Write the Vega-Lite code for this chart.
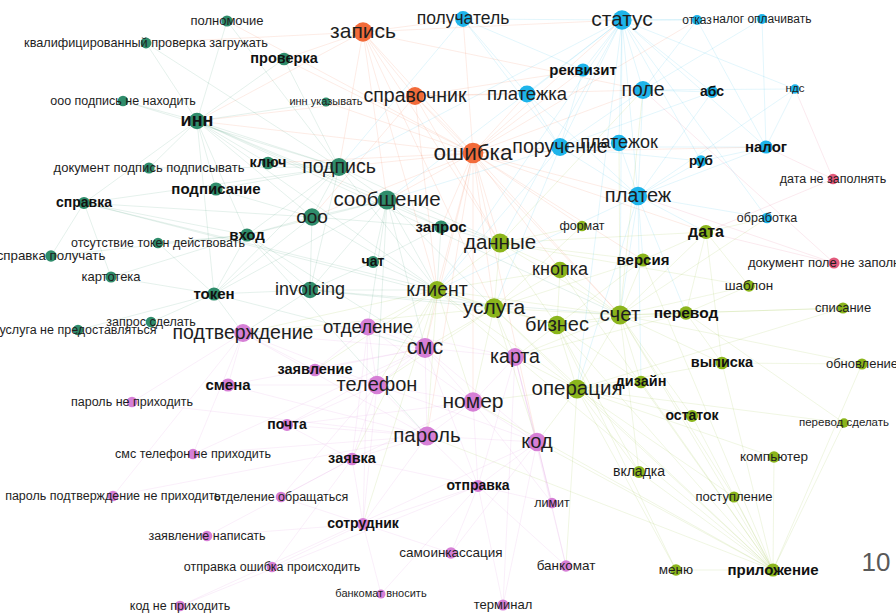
{
  "$schema": "https://vega.github.io/schema/vega-lite/v6.json",
  "width": 896,
  "height": 614,
  "autosize": {"type": "none"},
  "padding": 0,
  "background": "white",
  "config": {"view": {"stroke": null}, "font": "Liberation Sans"},
  "resolve": {"scale": {"size": "independent"}},
  "datasets": {
    "nodes": [
      {"id": "полномочие", "x": 227, "y": 21, "g": "A", "w": 13, "b": 0},
      {"id": "квалифицированный проверка загружать", "x": 146, "y": 43, "g": "A", "w": 12.7, "b": 0},
      {"id": "проверка", "x": 284, "y": 59, "g": "A", "w": 14.5, "b": 1},
      {"id": "ооо подпись не находить", "x": 123, "y": 101, "g": "A", "w": 12.5, "b": 0},
      {"id": "инн указывать", "x": 326, "y": 102, "g": "A", "w": 11, "b": 0},
      {"id": "инн", "x": 197, "y": 121, "g": "A", "w": 18, "b": 1},
      {"id": "документ подпись подписывать", "x": 149, "y": 168, "g": "A", "w": 13, "b": 0},
      {"id": "ключ", "x": 268, "y": 163, "g": "A", "w": 14.5, "b": 1},
      {"id": "подпись", "x": 339, "y": 167, "g": "A", "w": 19.5, "b": 0},
      {"id": "подписание", "x": 216, "y": 189, "g": "A", "w": 15, "b": 1},
      {"id": "справка", "x": 84, "y": 203, "g": "A", "w": 14, "b": 1},
      {"id": "сообщение", "x": 387, "y": 200, "g": "A", "w": 20.5, "b": 0},
      {"id": "ооо", "x": 312, "y": 217, "g": "A", "w": 19, "b": 0},
      {"id": "вход", "x": 247, "y": 235, "g": "A", "w": 15, "b": 1},
      {"id": "отсутствие токен действовать", "x": 158, "y": 243, "g": "A", "w": 12.5, "b": 0},
      {"id": "справка получать", "x": 51, "y": 256, "g": "A", "w": 13.3, "b": 0},
      {"id": "запрос", "x": 441, "y": 227, "g": "A", "w": 15, "b": 1},
      {"id": "чат", "x": 373, "y": 262, "g": "A", "w": 14, "b": 1},
      {"id": "картотека", "x": 111, "y": 277, "g": "A", "w": 13, "b": 0},
      {"id": "токен", "x": 214, "y": 294, "g": "A", "w": 15, "b": 1},
      {"id": "invoicing", "x": 310, "y": 290, "g": "A", "w": 18, "b": 0},
      {"id": "запрос сделать", "x": 151, "y": 322, "g": "A", "w": 12.5, "b": 0},
      {"id": "услуга не предоставляться", "x": 78, "y": 330, "g": "A", "w": 12.5, "b": 0},
      {"id": "запись", "x": 363, "y": 32, "g": "B", "w": 21, "b": 0},
      {"id": "справочник", "x": 415, "y": 96, "g": "B", "w": 19.5, "b": 0},
      {"id": "ошибка", "x": 473, "y": 153, "g": "B", "w": 22.5, "b": 0},
      {"id": "получатель", "x": 463, "y": 19, "g": "C", "w": 17.5, "b": 0},
      {"id": "статус", "x": 622, "y": 20, "g": "C", "w": 21, "b": 0},
      {"id": "отказ", "x": 697, "y": 20, "g": "C", "w": 12, "b": 0},
      {"id": "налог оплачивать", "x": 762, "y": 19, "g": "C", "w": 12, "b": 0},
      {"id": "реквизит", "x": 583, "y": 70, "g": "C", "w": 15, "b": 1},
      {"id": "платежка", "x": 527, "y": 94, "g": "C", "w": 18.5, "b": 0},
      {"id": "поле", "x": 643, "y": 90, "g": "C", "w": 19.5, "b": 0},
      {"id": "абс", "x": 712, "y": 92, "g": "C", "w": 14, "b": 1},
      {"id": "ндс", "x": 795, "y": 89, "g": "C", "w": 11.5, "b": 0},
      {"id": "поручение", "x": 560, "y": 147, "g": "C", "w": 19.5, "b": 0},
      {"id": "платежок", "x": 619, "y": 143, "g": "C", "w": 18, "b": 0},
      {"id": "руб", "x": 701, "y": 161, "g": "C", "w": 13.5, "b": 1},
      {"id": "налог", "x": 766, "y": 147, "g": "C", "w": 15, "b": 1},
      {"id": "платеж", "x": 638, "y": 196, "g": "C", "w": 20, "b": 0},
      {"id": "обработка", "x": 767, "y": 218, "g": "C", "w": 12.5, "b": 0},
      {"id": "дата не заполнять", "x": 833, "y": 179, "g": "F", "w": 12.5, "b": 0},
      {"id": "документ поле не заполнять", "x": 834, "y": 263, "g": "F", "w": 13, "b": 0},
      {"id": "формат", "x": 582, "y": 226, "g": "D", "w": 12.5, "b": 0},
      {"id": "данные", "x": 500, "y": 243, "g": "D", "w": 20.5, "b": 0},
      {"id": "дата", "x": 706, "y": 232, "g": "D", "w": 16, "b": 1},
      {"id": "версия", "x": 643, "y": 260, "g": "D", "w": 15, "b": 1},
      {"id": "кнопка", "x": 560, "y": 270, "g": "D", "w": 18, "b": 0},
      {"id": "шаблон", "x": 749, "y": 286, "g": "D", "w": 13.5, "b": 0},
      {"id": "клиент", "x": 437, "y": 290, "g": "D", "w": 19.5, "b": 0},
      {"id": "услуга", "x": 494, "y": 308, "g": "D", "w": 21, "b": 0},
      {"id": "бизнес", "x": 557, "y": 325, "g": "D", "w": 20, "b": 0},
      {"id": "счет", "x": 620, "y": 315, "g": "D", "w": 20.5, "b": 0},
      {"id": "перевод", "x": 686, "y": 313, "g": "D", "w": 15.5, "b": 1},
      {"id": "списание", "x": 843, "y": 308, "g": "D", "w": 13, "b": 0},
      {"id": "выписка", "x": 722, "y": 363, "g": "D", "w": 14.5, "b": 1},
      {"id": "обновление", "x": 862, "y": 364, "g": "D", "w": 13, "b": 0},
      {"id": "операция", "x": 577, "y": 389, "g": "D", "w": 20.5, "b": 0},
      {"id": "дизайн", "x": 641, "y": 382, "g": "D", "w": 14.5, "b": 1},
      {"id": "остаток", "x": 692, "y": 416, "g": "D", "w": 14, "b": 1},
      {"id": "перевод сделать", "x": 844, "y": 423, "g": "D", "w": 11.5, "b": 0},
      {"id": "компьютер", "x": 774, "y": 457, "g": "D", "w": 13.5, "b": 0},
      {"id": "вкладка", "x": 639, "y": 472, "g": "D", "w": 14, "b": 0},
      {"id": "поступление", "x": 734, "y": 497, "g": "D", "w": 13, "b": 0},
      {"id": "меню", "x": 676, "y": 570, "g": "D", "w": 13.5, "b": 0},
      {"id": "приложение", "x": 773, "y": 570, "g": "D", "w": 15, "b": 1},
      {"id": "подтверждение", "x": 243, "y": 333, "g": "E", "w": 19.5, "b": 0},
      {"id": "отделение", "x": 368, "y": 327, "g": "E", "w": 18.5, "b": 0},
      {"id": "заявление", "x": 315, "y": 370, "g": "E", "w": 14.5, "b": 1},
      {"id": "смс", "x": 425, "y": 348, "g": "E", "w": 21.5, "b": 0},
      {"id": "карта", "x": 515, "y": 357, "g": "E", "w": 19.5, "b": 0},
      {"id": "смена", "x": 228, "y": 385, "g": "E", "w": 15, "b": 1},
      {"id": "телефон", "x": 377, "y": 385, "g": "E", "w": 20, "b": 0},
      {"id": "номер", "x": 473, "y": 402, "g": "E", "w": 21, "b": 0},
      {"id": "пароль не приходить", "x": 132, "y": 402, "g": "E", "w": 12.5, "b": 0},
      {"id": "почта", "x": 287, "y": 425, "g": "E", "w": 14, "b": 1},
      {"id": "пароль", "x": 427, "y": 436, "g": "E", "w": 20.5, "b": 0},
      {"id": "код", "x": 537, "y": 442, "g": "E", "w": 20, "b": 0},
      {"id": "заявка", "x": 352, "y": 459, "g": "E", "w": 14.5, "b": 1},
      {"id": "смс телефон не приходить", "x": 193, "y": 454, "g": "E", "w": 12.5, "b": 0},
      {"id": "отправка", "x": 478, "y": 486, "g": "E", "w": 14, "b": 1},
      {"id": "лимит", "x": 552, "y": 503, "g": "E", "w": 12.5, "b": 0},
      {"id": "пароль подтверждение не приходить", "x": 113, "y": 496, "g": "E", "w": 12.5, "b": 0},
      {"id": "отделение обращаться", "x": 281, "y": 497, "g": "E", "w": 12.5, "b": 0},
      {"id": "сотрудник", "x": 363, "y": 524, "g": "E", "w": 14, "b": 1},
      {"id": "заявление написать", "x": 207, "y": 536, "g": "E", "w": 12.5, "b": 0},
      {"id": "самоинкассация", "x": 451, "y": 553, "g": "E", "w": 13.5, "b": 0},
      {"id": "банкомат", "x": 566, "y": 566, "g": "E", "w": 13.5, "b": 0},
      {"id": "отправка ошибка происходить", "x": 272, "y": 567, "g": "E", "w": 12.5, "b": 0},
      {"id": "банкомат вносить", "x": 381, "y": 594, "g": "E", "w": 11, "b": 0},
      {"id": "терминал", "x": 503, "y": 605, "g": "E", "w": 13, "b": 0},
      {"id": "код не приходить", "x": 180, "y": 606, "g": "E", "w": 12.5, "b": 0}
    ],
    "notes": [{"label": "10", "x": 876, "y": 563}],
    "edges": [
      {"s": "ошибка", "t": "запись"}, {"s": "ошибка", "t": "справочник"}, {"s": "ошибка", "t": "статус"}, {"s": "ошибка", "t": "получатель"},
      {"s": "ошибка", "t": "платежка"}, {"s": "ошибка", "t": "поручение"}, {"s": "ошибка", "t": "поле"}, {"s": "ошибка", "t": "подпись"},
      {"s": "ошибка", "t": "сообщение"}, {"s": "ошибка", "t": "инн"}, {"s": "ошибка", "t": "данные"}, {"s": "ошибка", "t": "клиент"},
      {"s": "ошибка", "t": "услуга"}, {"s": "ошибка", "t": "запрос"}, {"s": "ошибка", "t": "ооо"}, {"s": "ошибка", "t": "платеж"},
      {"s": "ошибка", "t": "счет"}, {"s": "ошибка", "t": "смс"}, {"s": "ошибка", "t": "номер"}, {"s": "ошибка", "t": "формат"},
      {"s": "ошибка", "t": "дата"}, {"s": "ошибка", "t": "налог"}, {"s": "ошибка", "t": "ключ"}, {"s": "ошибка", "t": "проверка"},
      {"s": "ошибка", "t": "инн указывать"}, {"s": "ошибка", "t": "полномочие"}, {"s": "ошибка", "t": "реквизит"}, {"s": "ошибка", "t": "отказ"},
      {"s": "ошибка", "t": "кнопка"}, {"s": "ошибка", "t": "версия"}, {"s": "ошибка", "t": "код"}, {"s": "ошибка", "t": "пароль"},
      {"s": "запись", "t": "справочник"}, {"s": "запись", "t": "инн"}, {"s": "запись", "t": "проверка"}, {"s": "запись", "t": "подпись"},
      {"s": "запись", "t": "сообщение"}, {"s": "запись", "t": "данные"}, {"s": "запись", "t": "квалифицированный проверка загружать"}, {"s": "запись", "t": "получатель"},
      {"s": "запись", "t": "статус"}, {"s": "запись", "t": "поле"}, {"s": "запись", "t": "клиент"}, {"s": "запись", "t": "услуга"},
      {"s": "справочник", "t": "инн"}, {"s": "справочник", "t": "платежка"}, {"s": "справочник", "t": "поле"}, {"s": "справочник", "t": "реквизит"},
      {"s": "справочник", "t": "данные"}, {"s": "справочник", "t": "ооо"}, {"s": "справочник", "t": "счет"}, {"s": "справочник", "t": "клиент"},
      {"s": "статус", "t": "получатель"}, {"s": "статус", "t": "реквизит"}, {"s": "статус", "t": "поле"}, {"s": "статус", "t": "отказ"},
      {"s": "статус", "t": "платежка"}, {"s": "статус", "t": "поручение"}, {"s": "статус", "t": "платежок"}, {"s": "статус", "t": "абс"},
      {"s": "статус", "t": "налог"}, {"s": "статус", "t": "платеж"}, {"s": "статус", "t": "руб"}, {"s": "статус", "t": "налог оплачивать"},
      {"s": "статус", "t": "ндс"}, {"s": "статус", "t": "обработка"}, {"s": "статус", "t": "счет"}, {"s": "статус", "t": "данные"},
      {"s": "статус", "t": "операция"}, {"s": "статус", "t": "сообщение"}, {"s": "статус", "t": "подпись"}, {"s": "статус", "t": "клиент"},
      {"s": "платеж", "t": "поручение"}, {"s": "платеж", "t": "платежок"}, {"s": "платеж", "t": "поле"}, {"s": "платеж", "t": "абс"},
      {"s": "платеж", "t": "налог"}, {"s": "платеж", "t": "руб"}, {"s": "платеж", "t": "дата"}, {"s": "платеж", "t": "счет"},
      {"s": "платеж", "t": "обработка"}, {"s": "платеж", "t": "версия"}, {"s": "платеж", "t": "перевод"}, {"s": "платеж", "t": "ндс"},
      {"s": "платеж", "t": "платежка"}, {"s": "платеж", "t": "операция"}, {"s": "платеж", "t": "клиент"}, {"s": "платеж", "t": "дизайн"},
      {"s": "поручение", "t": "платежка"}, {"s": "поручение", "t": "платежок"}, {"s": "поручение", "t": "реквизит"}, {"s": "поручение", "t": "поле"},
      {"s": "поручение", "t": "получатель"}, {"s": "поручение", "t": "налог"}, {"s": "поручение", "t": "руб"}, {"s": "поручение", "t": "абс"},
      {"s": "поручение", "t": "клиент"}, {"s": "поручение", "t": "услуга"}, {"s": "поручение", "t": "сообщение"},
      {"s": "инн", "t": "подпись"}, {"s": "инн", "t": "ключ"}, {"s": "инн", "t": "подписание"}, {"s": "инн", "t": "ооо"},
      {"s": "инн", "t": "сообщение"}, {"s": "инн", "t": "проверка"}, {"s": "инн", "t": "документ подпись подписывать"}, {"s": "инн", "t": "ооо подпись не находить"},
      {"s": "инн", "t": "справка"}, {"s": "инн", "t": "вход"}, {"s": "инн", "t": "токен"}, {"s": "инн", "t": "квалифицированный проверка загружать"},
      {"s": "инн", "t": "полномочие"}, {"s": "инн", "t": "инн указывать"}, {"s": "инн", "t": "запрос"}, {"s": "инн", "t": "клиент"}, {"s": "инн", "t": "счет"},
      {"s": "подпись", "t": "ключ"}, {"s": "подпись", "t": "подписание"}, {"s": "подпись", "t": "сообщение"}, {"s": "подпись", "t": "ооо"},
      {"s": "подпись", "t": "проверка"}, {"s": "подпись", "t": "вход"}, {"s": "подпись", "t": "токен"}, {"s": "подпись", "t": "invoicing"},
      {"s": "подпись", "t": "документ подпись подписывать"}, {"s": "подпись", "t": "ооо подпись не находить"}, {"s": "подпись", "t": "справка"}, {"s": "подпись", "t": "полномочие"},
      {"s": "подпись", "t": "квалифицированный проверка загружать"}, {"s": "подпись", "t": "данные"}, {"s": "подпись", "t": "клиент"},
      {"s": "сообщение", "t": "ооо"}, {"s": "сообщение", "t": "вход"}, {"s": "сообщение", "t": "запрос"}, {"s": "сообщение", "t": "чат"},
      {"s": "сообщение", "t": "invoicing"}, {"s": "сообщение", "t": "токен"}, {"s": "сообщение", "t": "клиент"}, {"s": "сообщение", "t": "данные"},
      {"s": "сообщение", "t": "смс"}, {"s": "сообщение", "t": "отделение"}, {"s": "сообщение", "t": "услуга"}, {"s": "сообщение", "t": "телефон"},
      {"s": "ооо", "t": "вход"}, {"s": "ооо", "t": "invoicing"}, {"s": "ооо", "t": "токен"}, {"s": "ооо", "t": "справка"},
      {"s": "ооо", "t": "запрос"}, {"s": "ооо", "t": "клиент"}, {"s": "ооо", "t": "подписание"},
      {"s": "вход", "t": "токен"}, {"s": "вход", "t": "отсутствие токен действовать"}, {"s": "вход", "t": "справка"}, {"s": "вход", "t": "справка получать"},
      {"s": "вход", "t": "invoicing"}, {"s": "вход", "t": "картотека"}, {"s": "вход", "t": "смс"}, {"s": "вход", "t": "пароль"},
      {"s": "токен", "t": "отсутствие токен действовать"}, {"s": "токен", "t": "запрос сделать"}, {"s": "токен", "t": "услуга не предоставляться"}, {"s": "токен", "t": "картотека"},
      {"s": "токен", "t": "invoicing"}, {"s": "токен", "t": "подтверждение"}, {"s": "токен", "t": "смс"},
      {"s": "справка", "t": "справка получать"}, {"s": "справка", "t": "картотека"}, {"s": "справка", "t": "клиент"}, {"s": "справка", "t": "услуга"},
      {"s": "invoicing", "t": "клиент"}, {"s": "invoicing", "t": "услуга"}, {"s": "invoicing", "t": "чат"}, {"s": "invoicing", "t": "подтверждение"},
      {"s": "invoicing", "t": "счет"}, {"s": "чат", "t": "клиент"}, {"s": "чат", "t": "запрос"}, {"s": "запрос", "t": "данные"}, {"s": "запрос", "t": "клиент"},
      {"s": "клиент", "t": "услуга"}, {"s": "клиент", "t": "данные"}, {"s": "клиент", "t": "кнопка"}, {"s": "клиент", "t": "бизнес"},
      {"s": "клиент", "t": "счет"}, {"s": "клиент", "t": "отделение"}, {"s": "клиент", "t": "смс"}, {"s": "клиент", "t": "карта"},
      {"s": "клиент", "t": "телефон"}, {"s": "клиент", "t": "номер"}, {"s": "клиент", "t": "операция"}, {"s": "клиент", "t": "пароль"},
      {"s": "клиент", "t": "подтверждение"}, {"s": "клиент", "t": "заявление"}, {"s": "клиент", "t": "сотрудник"}, {"s": "клиент", "t": "заявка"},
      {"s": "услуга", "t": "данные"}, {"s": "услуга", "t": "кнопка"}, {"s": "услуга", "t": "бизнес"}, {"s": "услуга", "t": "счет"},
      {"s": "услуга", "t": "карта"}, {"s": "услуга", "t": "операция"}, {"s": "услуга", "t": "номер"}, {"s": "услуга", "t": "код"},
      {"s": "услуга", "t": "смс"}, {"s": "услуга", "t": "формат"}, {"s": "услуга", "t": "версия"}, {"s": "услуга", "t": "приложение"},
      {"s": "услуга", "t": "подтверждение"}, {"s": "услуга", "t": "телефон"},
      {"s": "счет", "t": "бизнес"}, {"s": "счет", "t": "перевод"}, {"s": "счет", "t": "версия"}, {"s": "счет", "t": "дата"},
      {"s": "счет", "t": "операция"}, {"s": "счет", "t": "дизайн"}, {"s": "счет", "t": "выписка"}, {"s": "счет", "t": "остаток"},
      {"s": "счет", "t": "шаблон"}, {"s": "счет", "t": "списание"}, {"s": "счет", "t": "обновление"}, {"s": "счет", "t": "кнопка"},
      {"s": "счет", "t": "карта"}, {"s": "счет", "t": "поступление"}, {"s": "счет", "t": "вкладка"}, {"s": "счет", "t": "данные"},
      {"s": "счет", "t": "поле"}, {"s": "счет", "t": "платежок"}, {"s": "счет", "t": "обработка"}, {"s": "счет", "t": "приложение"},
      {"s": "операция", "t": "бизнес"}, {"s": "операция", "t": "карта"}, {"s": "операция", "t": "код"}, {"s": "операция", "t": "дизайн"},
      {"s": "операция", "t": "остаток"}, {"s": "операция", "t": "выписка"}, {"s": "операция", "t": "вкладка"}, {"s": "операция", "t": "меню"},
      {"s": "операция", "t": "приложение"}, {"s": "операция", "t": "поступление"}, {"s": "операция", "t": "компьютер"}, {"s": "операция", "t": "банкомат"},
      {"s": "операция", "t": "номер"}, {"s": "операция", "t": "перевод сделать"}, {"s": "операция", "t": "списание"},
      {"s": "данные", "t": "кнопка"}, {"s": "данные", "t": "формат"}, {"s": "данные", "t": "версия"}, {"s": "данные", "t": "дата"},
      {"s": "данные", "t": "бизнес"}, {"s": "данные", "t": "поле"}, {"s": "данные", "t": "шаблон"},
      {"s": "бизнес", "t": "кнопка"}, {"s": "бизнес", "t": "версия"}, {"s": "бизнес", "t": "дизайн"}, {"s": "бизнес", "t": "меню"},
      {"s": "бизнес", "t": "вкладка"}, {"s": "бизнес", "t": "карта"}, {"s": "бизнес", "t": "перевод"},
      {"s": "приложение", "t": "меню"}, {"s": "приложение", "t": "компьютер"}, {"s": "приложение", "t": "поступление"}, {"s": "приложение", "t": "вкладка"},
      {"s": "приложение", "t": "остаток"}, {"s": "приложение", "t": "дизайн"}, {"s": "приложение", "t": "выписка"}, {"s": "приложение", "t": "обновление"},
      {"s": "приложение", "t": "перевод сделать"}, {"s": "приложение", "t": "кнопка"}, {"s": "приложение", "t": "бизнес"}, {"s": "приложение", "t": "код"},
      {"s": "приложение", "t": "версия"}, {"s": "приложение", "t": "карта"}, {"s": "приложение", "t": "номер"}, {"s": "приложение", "t": "пароль"},
      {"s": "перевод", "t": "шаблон"}, {"s": "перевод", "t": "списание"}, {"s": "перевод", "t": "дата"}, {"s": "перевод", "t": "выписка"},
      {"s": "перевод", "t": "перевод сделать"}, {"s": "перевод", "t": "карта"}, {"s": "выписка", "t": "обновление"}, {"s": "выписка", "t": "дата"},
      {"s": "дата", "t": "обработка"}, {"s": "дата", "t": "версия"}, {"s": "дата", "t": "шаблон"},
      {"s": "смс", "t": "телефон"}, {"s": "смс", "t": "номер"}, {"s": "смс", "t": "пароль"}, {"s": "смс", "t": "код"},
      {"s": "смс", "t": "подтверждение"}, {"s": "смс", "t": "отделение"}, {"s": "смс", "t": "заявление"}, {"s": "смс", "t": "смена"},
      {"s": "смс", "t": "карта"}, {"s": "смс", "t": "почта"}, {"s": "смс", "t": "отправка"}, {"s": "смс", "t": "смс телефон не приходить"},
      {"s": "пароль", "t": "телефон"}, {"s": "пароль", "t": "номер"}, {"s": "пароль", "t": "код"}, {"s": "пароль", "t": "подтверждение"},
      {"s": "пароль", "t": "смена"}, {"s": "пароль", "t": "почта"}, {"s": "пароль", "t": "заявка"}, {"s": "пароль", "t": "отправка"},
      {"s": "пароль", "t": "пароль не приходить"}, {"s": "пароль", "t": "смс телефон не приходить"}, {"s": "пароль", "t": "пароль подтверждение не приходить"}, {"s": "пароль", "t": "сотрудник"},
      {"s": "номер", "t": "телефон"}, {"s": "номер", "t": "код"}, {"s": "номер", "t": "карта"}, {"s": "номер", "t": "отправка"},
      {"s": "номер", "t": "почта"}, {"s": "номер", "t": "заявка"}, {"s": "номер", "t": "лимит"}, {"s": "номер", "t": "отделение"},
      {"s": "код", "t": "карта"}, {"s": "код", "t": "отправка"}, {"s": "код", "t": "лимит"}, {"s": "код", "t": "банкомат"},
      {"s": "код", "t": "терминал"}, {"s": "код", "t": "самоинкассация"}, {"s": "код", "t": "код не приходить"}, {"s": "код", "t": "телефон"},
      {"s": "телефон", "t": "подтверждение"}, {"s": "телефон", "t": "заявление"}, {"s": "телефон", "t": "смена"}, {"s": "телефон", "t": "почта"},
      {"s": "телефон", "t": "отделение"}, {"s": "телефон", "t": "заявка"}, {"s": "телефон", "t": "сотрудник"}, {"s": "телефон", "t": "отделение обращаться"},
      {"s": "подтверждение", "t": "смена"}, {"s": "подтверждение", "t": "заявление"}, {"s": "подтверждение", "t": "отделение"}, {"s": "подтверждение", "t": "пароль не приходить"},
      {"s": "подтверждение", "t": "смс телефон не приходить"}, {"s": "подтверждение", "t": "пароль подтверждение не приходить"},
      {"s": "отделение", "t": "заявление"}, {"s": "отделение", "t": "заявка"}, {"s": "отделение", "t": "сотрудник"}, {"s": "отделение", "t": "карта"},
      {"s": "заявка", "t": "сотрудник"}, {"s": "заявка", "t": "отделение обращаться"}, {"s": "заявка", "t": "заявление написать"}, {"s": "заявка", "t": "отправка ошибка происходить"},
      {"s": "заявка", "t": "почта"}, {"s": "заявка", "t": "отправка"},
      {"s": "сотрудник", "t": "банкомат вносить"}, {"s": "сотрудник", "t": "самоинкассация"}, {"s": "сотрудник", "t": "отделение обращаться"}, {"s": "сотрудник", "t": "отправка ошибка происходить"},
      {"s": "сотрудник", "t": "заявление написать"}, {"s": "сотрудник", "t": "отправка"},
      {"s": "отправка", "t": "самоинкассация"}, {"s": "отправка", "t": "терминал"}, {"s": "отправка", "t": "лимит"}, {"s": "отправка", "t": "банкомат"},
      {"s": "отправка", "t": "банкомат вносить"}, {"s": "отправка", "t": "код не приходить"},
      {"s": "карта", "t": "лимит"}, {"s": "карта", "t": "банкомат"}, {"s": "карта", "t": "отправка"}, {"s": "карта", "t": "терминал"},
      {"s": "дата не заполнять", "t": "налог"}, {"s": "дата не заполнять", "t": "дата"}, {"s": "дата не заполнять", "t": "ндс"},
      {"s": "документ поле не заполнять", "t": "поле"}, {"s": "документ поле не заполнять", "t": "дата"}, {"s": "документ поле не заполнять", "t": "платеж"},
      {"s": "налог", "t": "ндс"}, {"s": "налог", "t": "налог оплачивать"}, {"s": "налог", "t": "отказ"}, {"s": "налог", "t": "руб"},
      {"s": "поле", "t": "абс"}, {"s": "поле", "t": "отказ"}, {"s": "поле", "t": "ндс"}, {"s": "поле", "t": "налог оплачивать"},
      {"s": "получатель", "t": "реквизит"}, {"s": "получатель", "t": "платежка"}, {"s": "получатель", "t": "подпись"}
    ]
  },
  "layer": [
    {
      "data": {"name": "edges"},
      "transform": [
        {"lookup": "s", "from": {"data": {"name": "nodes"}, "key": "id", "fields": ["x", "y", "g"]}, "as": ["x1", "y1", "g"]},
        {"lookup": "t", "from": {"data": {"name": "nodes"}, "key": "id", "fields": ["x", "y"]}, "as": ["x2", "y2"]}
      ],
      "mark": {"type": "rule", "strokeWidth": 0.7, "opacity": 0.18},
      "encoding": {
        "x": {"field": "x1", "type": "quantitative", "scale": {"domain": [0, 896], "nice": false, "zero": false}, "axis": null},
        "y": {"field": "y1", "type": "quantitative", "scale": {"domain": [0, 614], "nice": false, "zero": false, "reverse": true}, "axis": null},
        "x2": {"field": "x2"},
        "y2": {"field": "y2"},
        "color": {"field": "g", "type": "nominal", "scale": {"domain": ["A", "B", "C", "D", "E", "F"], "range": ["#2f8c6b", "#f26b3a", "#1eb4ea", "#8bb51c", "#d67fd6", "#e25a7c"]}, "legend": null}
      }
    },
    {
      "data": {"name": "nodes"},
      "mark": {"type": "circle", "opacity": 1},
      "encoding": {
        "x": {"field": "x", "type": "quantitative"},
        "y": {"field": "y", "type": "quantitative"},
        "size": {"field": "w", "type": "quantitative", "scale": {"type": "pow", "exponent": 2, "domain": [11, 22], "range": [80, 410], "zero": false}, "legend": null},
        "color": {"field": "g", "type": "nominal", "legend": null}
      }
    },
    {
      "data": {"name": "nodes"},
      "transform": [{"filter": "datum.b == 0"}],
      "mark": {"type": "text", "align": "center", "baseline": "middle", "color": "#1e1e1e", "font": "Liberation Sans"},
      "encoding": {
        "x": {"field": "x", "type": "quantitative"},
        "y": {"field": "y", "type": "quantitative"},
        "text": {"field": "id"},
        "size": {"field": "w", "type": "quantitative", "scale": {"domain": [10, 22], "range": [10, 22], "zero": false}, "legend": null}
      }
    },
    {
      "data": {"name": "nodes"},
      "transform": [{"filter": "datum.b == 1"}],
      "mark": {"type": "text", "align": "center", "baseline": "middle", "color": "#111111", "font": "Liberation Sans", "fontWeight": "bold"},
      "encoding": {
        "x": {"field": "x", "type": "quantitative"},
        "y": {"field": "y", "type": "quantitative"},
        "text": {"field": "id"},
        "size": {"field": "w", "type": "quantitative", "scale": {"domain": [10, 22], "range": [10, 22], "zero": false}, "legend": null}
      }
    },
    {
      "data": {"name": "notes"},
      "mark": {"type": "text", "align": "center", "baseline": "middle", "color": "#595959", "fontSize": 26, "font": "Liberation Sans"},
      "encoding": {
        "x": {"field": "x", "type": "quantitative"},
        "y": {"field": "y", "type": "quantitative"},
        "text": {"field": "label"}
      }
    }
  ]
}
